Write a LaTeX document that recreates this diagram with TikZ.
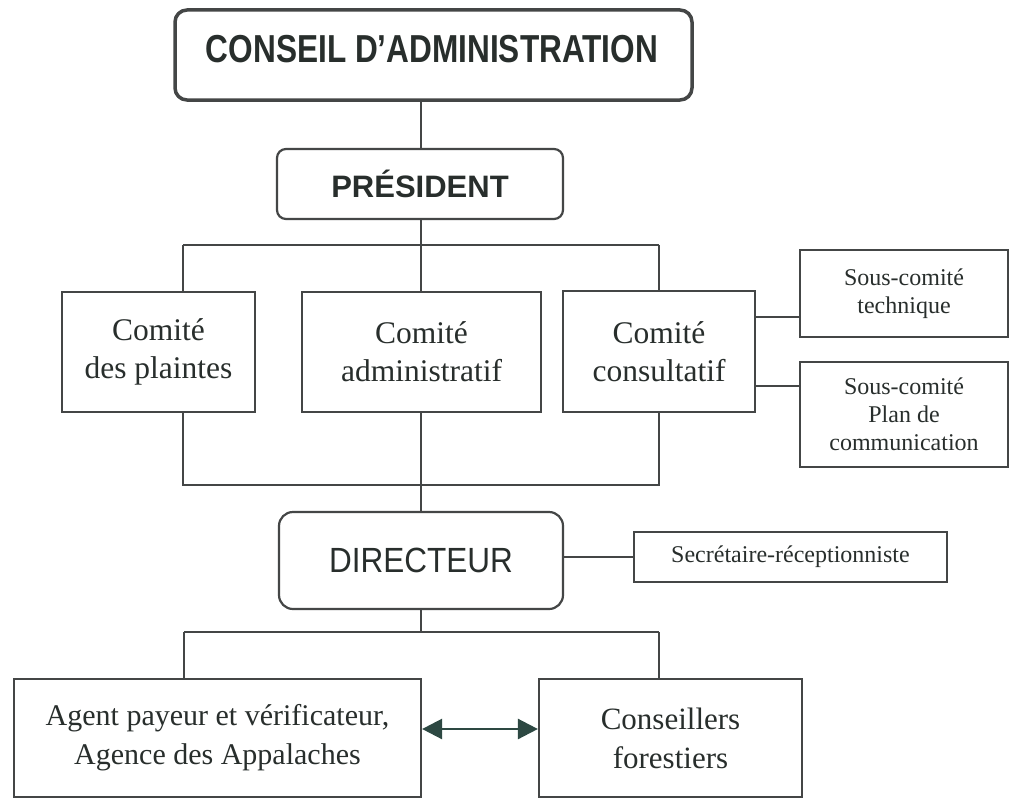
\documentclass[tikz,border=0pt]{standalone}
\usepackage{fontspec}
\setmainfont{Liberation Serif}
\newfontfamily\titlefont[FakeStretch=0.81]{Liberation Sans}
\newfontfamily\dirfont[FakeStretch=0.9]{Liberation Sans}
\newfontfamily\presfont{Liberation Sans}
\usetikzlibrary{arrows.meta}
\definecolor{ink}{RGB}{40,46,44}
\definecolor{edgec}{RGB}{68,70,70}
\definecolor{arrowc}{RGB}{45,72,66}
\begin{document}
\begin{tikzpicture}[x=1pt,y=-1pt,
  box/.style={draw=edgec, line width=2.2pt, inner sep=0pt, align=center, text=ink,
              font=\fontsize{31.5}{38}\selectfont},
  rbox/.style={box, rounded corners=12pt},
  smallbox/.style={box, font=\fontsize{24}{28}\selectfont},
  link/.style={draw=edgec, line width=2pt},
  dblarrow/.style={draw=arrowc, line width=2.5pt,
     {Triangle[length=20pt,width=20pt]}-{Triangle[length=20pt,width=20pt]}},
]
\useasboundingbox[fill=white] (0,0) rectangle (1014,800);

% boxes
\node[rbox, line width=3.5pt, minimum width=517pt, minimum height=90pt] (conseil) at (433.5,55) {};
\node[text=ink, inner sep=0pt, font=\titlefont\bfseries\fontsize{39}{44}\selectfont] (conseiltxt) at (432,49) {CONSEIL D’ADMINISTRATION};
\node[rbox, rounded corners=9pt, minimum width=286pt, minimum height=70pt,
      font=\presfont\bfseries\fontsize{31}{36}\selectfont] (president) at (420,184) {PRÉSIDENT};

\node[box, minimum width=193pt, minimum height=120pt] (plaintes) at (158.5,352) {Comité\\des plaintes};
\node[box, minimum width=239pt, minimum height=120pt] (admin) at (421.5,352) {Comité\\administratif};
\node[box, minimum width=192pt, minimum height=121pt] (consult) at (659,351.5) {Comité\\consultatif};
\node[smallbox, minimum width=208pt, minimum height=87pt] (tech) at (904,293.5) {Sous-comité\\technique};
\node[smallbox, minimum width=208pt, minimum height=105pt] (plan) at (904,414.5) {Sous-comité\\Plan de\\communication};

\node[rbox, rounded corners=14pt, minimum width=284pt, minimum height=97pt,
      font=\dirfont\fontsize{35}{40}\selectfont] (directeur) at (421,560.5) {DIRECTEUR};
\node[smallbox, minimum width=313pt, minimum height=50pt] (secr) at (790.5,557) {Secrétaire-réceptionniste};

\node[box, font=\fontsize{30}{39}\selectfont, minimum width=407pt, minimum height=118pt] (agent) at (217.5,738) {Agent payeur et vérificateur,\\Agence des Appalaches};
\node[box, font=\fontsize{31}{39}\selectfont, minimum width=263pt, minimum height=118pt] (conseillers) at (670.5,738) {Conseillers\\forestiers};

% junctions
\coordinate (bL) at (183,245); \coordinate (bC) at (421,245); \coordinate (bR) at (659,245);
\coordinate (dL) at (183,485); \coordinate (dC) at (421,485); \coordinate (dR) at (659,485);
\coordinate (eL) at (184,632); \coordinate (eC) at (421,632); \coordinate (eR) at (659,632);
\coordinate (t1) at (0,317); \coordinate (t2) at (0,386);
\coordinate (s1) at (0,557); \coordinate (a1) at (0,729);

% connectors
\draw[link] (conseil.south -| bC) -- (president.north -| bC);
\draw[link] (president.south -| bC) -- (bC);
\draw[link] (bL) -- (bR);
\draw[link] (bL) -- (plaintes.north -| bL);
\draw[link] (bC) -- (admin.north -| bC);
\draw[link] (bR) -- (consult.north -| bR);
\draw[link] (plaintes.south -| dL) -- (dL) -- (dR) -- (consult.south -| dR);
\draw[link] (admin.south -| dC) -- (dC) -- (directeur.north -| dC);
\draw[link] (consult.east |- t1) -- (tech.west |- t1);
\draw[link] (consult.east |- t2) -- (plan.west |- t2);
\draw[link] (directeur.east |- s1) -- (secr.west |- s1);
\draw[link] (directeur.south -| eC) -- (eC);
\draw[link] (eL) -- (eR);
\draw[link] (eL) -- (agent.north -| eL);
\draw[link] (eR) -- (conseillers.north -| eR);
\draw[dblarrow] (agent.east |- a1) -- (conseillers.west |- a1);
\end{tikzpicture}
\end{document}
